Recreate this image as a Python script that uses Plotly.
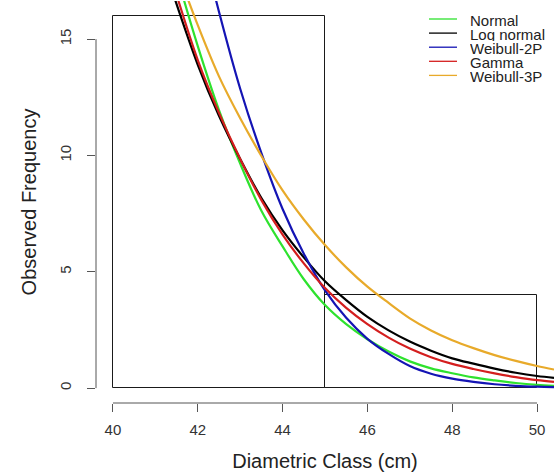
import plotly.graph_objects as go

# Histogram (observed frequency per diametric class)
bin_centers = [42.5, 47.5]
bin_counts = [16, 4]
bin_width = 5

# Fitted curves
normal_x = [41.4, 42.0, 42.5, 43.0, 43.5, 44.0, 44.5, 45.0, 45.5, 46.0, 46.5, 47.0, 47.5, 48.0, 48.5, 49.0, 49.5, 50.0, 50.4]
normal_y = [18.4, 14.7, 11.95, 9.65, 7.62, 6.09, 4.68, 3.57, 2.75, 2.10, 1.57, 1.15, 0.85, 0.64, 0.46, 0.33, 0.22, 0.14, 0.10]

lognormal_x = [41.2, 42.0, 42.5, 43.0, 43.5, 44.0, 44.5, 45.0, 45.5, 46.0, 46.5, 47.0, 47.5, 48.0, 48.5, 49.0, 49.5, 50.0, 50.4]
lognormal_y = [18.15, 13.9, 11.71, 9.85, 8.17, 6.78, 5.62, 4.59, 3.78, 3.06, 2.48, 2.0, 1.61, 1.28, 1.05, 0.84, 0.66, 0.52, 0.44]

weibull2_x = [42.2, 42.5, 43.0, 43.5, 44.0, 44.5, 45.0, 45.5, 46.0, 46.5, 47.0, 47.5, 48.0, 48.5, 49.0, 49.5, 50.0, 50.4]
weibull2_y = [18.37, 16.18, 12.87, 10.1, 7.7, 5.78, 4.2, 3.02, 2.12, 1.47, 0.95, 0.62, 0.41, 0.27, 0.165, 0.10, 0.06, 0.04]

gamma_x = [41.3, 42.0, 42.5, 43.0, 43.5, 44.0, 44.5, 45.0, 45.5, 46.0, 46.5, 47.0, 47.5, 48.0, 48.5, 49.0, 49.5, 50.0, 50.4]
gamma_y = [18.1, 14.1, 11.83, 9.85, 8.08, 6.6, 5.36, 4.3, 3.45, 2.75, 2.17, 1.7, 1.33, 1.04, 0.82, 0.63, 0.47, 0.34, 0.27]

weibull3_x = [41.45, 42.0, 42.5, 43.0, 43.5, 44.0, 44.5, 45.0, 45.5, 46.0, 46.5, 47.0, 47.5, 48.0, 48.5, 49.0, 49.5, 50.0, 50.4]
weibull3_y = [18.3, 15.6, 13.4, 11.6, 9.98, 8.5, 7.25, 6.15, 5.19, 4.36, 3.66, 3.0, 2.48, 2.06, 1.72, 1.42, 1.17, 0.95, 0.80]

x_ticks = [40, 42, 44, 46, 48, 50]
y_ticks = [0, 5, 10, 15]

series = [
    ("Normal", normal_x, normal_y, "#2ee22e"),
    ("Log normal", lognormal_x, lognormal_y, "#000000"),
    ("Weibull-2P", weibull2_x, weibull2_y, "#1414b4"),
    ("Gamma", gamma_x, gamma_y, "#d41e1e"),
    ("Weibull-3P", weibull3_x, weibull3_y, "#e8aa2a"),
]

# plot-area geometry (pixels)
W, H = 558, 475
ML, MR, MT, MB = 96, 4, 1, 72
PW, PH = W - ML - MR, H - MT - MB

fig = go.Figure()
fig.add_trace(go.Bar(
    x=bin_centers, y=bin_counts, width=[bin_width] * len(bin_centers),
    marker=dict(color="rgba(0,0,0,0)", line=dict(color="#1a1a1a", width=1)),
    showlegend=False, hoverinfo="skip",
))
for name, xs, ys, col in series:
    fig.add_trace(go.Scatter(
        x=xs, y=ys, mode="lines", name=name, showlegend=False,
        line=dict(color=col, width=2.2, shape="spline", smoothing=1.0),
    ))

font_family = "Liberation Sans, Arial, sans-serif"

# manual legend (R-style, no box)
shapes = [
    dict(type="line", xref="x", yref="paper", x0=x_ticks[0], x1=x_ticks[-1], y0=0, y1=0,
         line=dict(color="#555555", width=1)),
    dict(type="line", xref="paper", yref="y", x0=0, x1=0, y0=y_ticks[0], y1=y_ticks[-1],
         line=dict(color="#555555", width=1)),
]
annotations = []
row_y0, row_step = 19, 14.1
for i, (name, _, _, col) in enumerate(series):
    py = row_y0 + i * row_step
    yp = (H - MB - py) / PH
    shapes.append(dict(type="line", xref="paper", yref="paper",
                       x0=(429 - ML) / PW, x1=(457 - ML) / PW, y0=yp, y1=yp,
                       line=dict(color=col, width=1.3)))
    annotations.append(dict(xref="paper", yref="paper", x=(469 - ML) / PW, y=(H - MB - py - 1.3) / PH,
                            text=name, showarrow=False, xanchor="left", yanchor="middle",
                            height=13, valign="middle", borderpad=0,
                            font=dict(size=15, color="#222222", family=font_family)))

fig.update_layout(
    width=W, height=H,
    margin=dict(l=ML, r=MR, t=MT, b=MB, autoexpand=False),
    paper_bgcolor="white", plot_bgcolor="white",
    font=dict(family=font_family, color="#333333"),
    bargap=0,
    showlegend=False,
    xaxis=dict(
        range=[39.6, 50.4], tickvals=x_ticks, ticktext=[str(v) for v in x_ticks],
        showgrid=False, zeroline=False, showline=False,
        ticks="outside", ticklen=8, tickcolor="#555555", tickwidth=1,
        ticklabelstandoff=5,
        tickfont=dict(size=15, color="#333333"),
        title=dict(text="Diametric Class (cm)", font=dict(size=20, color="#222222"), standoff=16),
        fixedrange=True,
    ),
    yaxis=dict(
        range=[-0.64, 16.64], tickvals=y_ticks, ticktext=[str(v) for v in y_ticks],
        showgrid=False, zeroline=False, showline=False,
        ticks="outside", ticklen=8, tickcolor="#555555", tickwidth=1,
        tickangle=-90, ticklabelstandoff=10,
        tickfont=dict(size=15, color="#333333"),
        title=dict(text="Observed Frequency", font=dict(size=20, color="#222222"), standoff=15),
        fixedrange=True,
    ),
    shapes=shapes,
    annotations=annotations,
)

fig.write_html("out.html", config={"displayModeBar": False},
               post_script="document.body.style.margin='0px';")
